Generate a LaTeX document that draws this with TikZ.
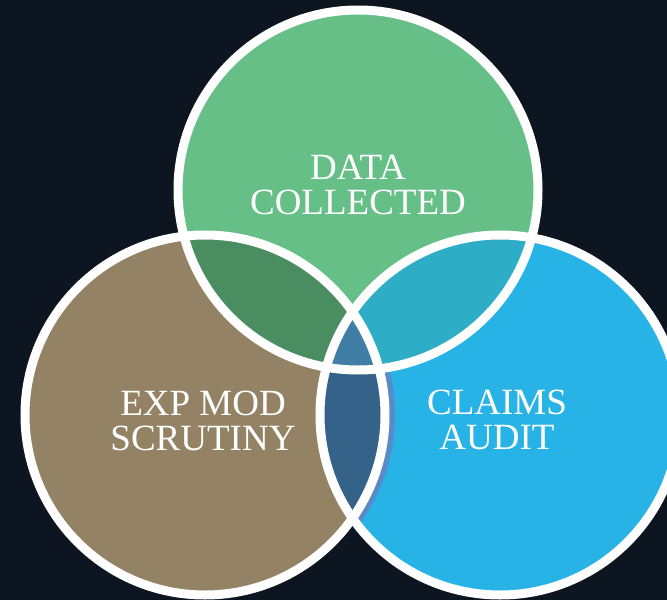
\documentclass[tikz,border=0pt]{standalone}
\usepackage{fontspec}
\setmainfont{Liberation Serif}
\definecolor{bgc}{HTML}{0C1520}
\definecolor{cgreen}{HTML}{65BF87}
\definecolor{cbrown}{HTML}{948264}
\definecolor{cblue}{HTML}{28B3E7}
\definecolor{cgb}{HTML}{4A8D60}
\definecolor{cgc}{HTML}{2DADC6}
\definecolor{cbc}{HTML}{356289}
\definecolor{ctri}{HTML}{417EA6}
\definecolor{cshadow}{HTML}{5B8AC8}
\begin{document}
\begin{tikzpicture}[x=1pt,y=-1pt,
  ring/.style={draw=white, line width=9pt},
  lbl/.style={text=white, font=\fontsize{37}{35}\selectfont, align=center, inner sep=0pt}]
\fill[bgc] (0,0) rectangle (667,600);
\useasboundingbox (0,0) rectangle (667,600);
\clip (0,0) rectangle (667,600);
\coordinate (G) at (358,190);
\coordinate (B) at (205,415);
\coordinate (C) at (500,415);
% base fills
\fill[cgreen] (G) circle[radius=180pt];
\fill[cbrown] (B) circle[radius=180pt];
\fill[cblue] (C) circle[radius=180pt];
% shadow of the brown ring on the blue circle
\begin{scope}
  \clip (C) circle[radius=180pt];
  \draw[cshadow, line width=10pt] ([xshift=5pt]B) circle[radius=180pt];
\end{scope}
% pairwise overlaps
\begin{scope}
  \clip (G) circle[radius=180pt];
  \fill[cgb] (B) circle[radius=180pt];
  \fill[cgc] (C) circle[radius=180pt];
\end{scope}
\begin{scope}
  \clip (B) circle[radius=180pt];
  \fill[cbc] (C) circle[radius=180pt];
  \clip (C) circle[radius=180pt];
  \fill[ctri] (G) circle[radius=180pt];
\end{scope}
% white rings
\draw[ring] (G) circle[radius=180pt];
\draw[ring] (B) circle[radius=180pt];
\draw[ring] (C) circle[radius=180pt];
% labels
\node[lbl] (tg) at (358,184.5) {DATA\\COLLECTED};
\node[lbl] (tb) at (203,421) {EXP MOD\\SCRUTINY};
\node[lbl] (tc) at (497,420) {CLAIMS\\AUDIT};
\end{tikzpicture}
\end{document}
